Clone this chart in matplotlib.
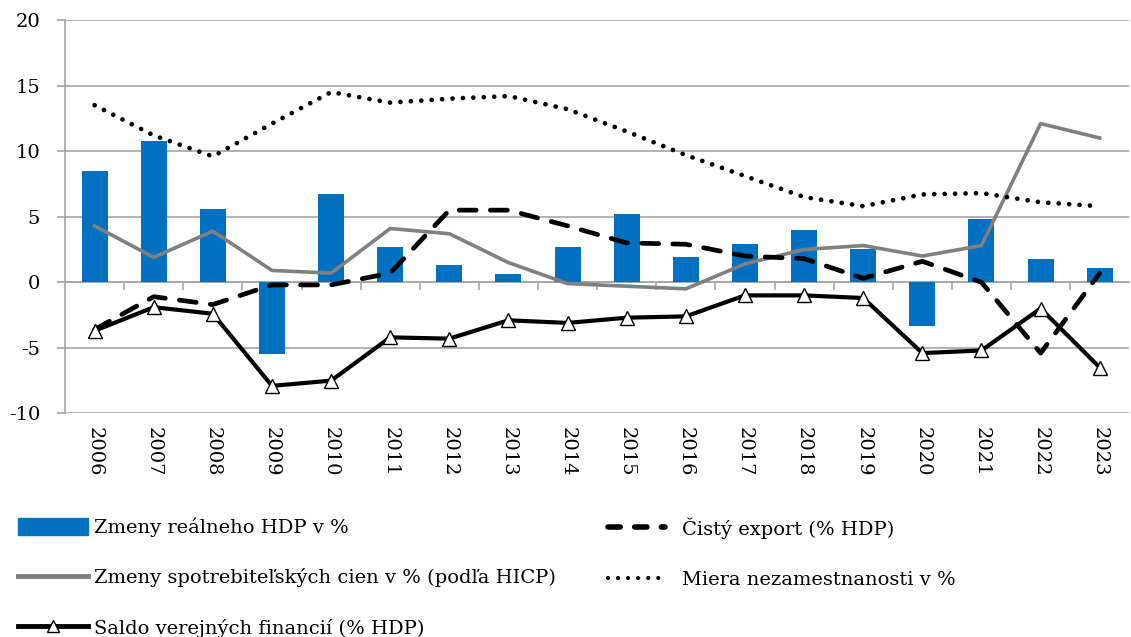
import matplotlib
matplotlib.use("Agg")
import matplotlib.pyplot as plt
import numpy as np
from matplotlib.lines import Line2D
from matplotlib.patches import Patch

years = [str(y) for y in range(2006, 2024)]
hdp = [8.5, 10.8, 5.6, -5.5, 6.7, 2.7, 1.3, 0.6, 2.7, 5.2, 1.9, 2.9, 4.0, 2.5, -3.3, 4.8, 1.8, 1.1]
cisty_export = [-3.6, -1.1, -1.7, -0.2, -0.2, 0.7, 5.5, 5.5, 4.3, 3.0, 2.9, 2.0, 1.8, 0.3, 1.6, 0.0, -5.4, 0.7]
hicp = [4.3, 1.9, 3.9, 0.9, 0.7, 4.1, 3.7, 1.5, -0.1, -0.3, -0.5, 1.4, 2.5, 2.8, 2.0, 2.8, 12.1, 11.0]
nezamestnanost = [13.5, 11.2, 9.6, 12.1, 14.5, 13.7, 14.0, 14.2, 13.2, 11.5, 9.7, 8.1, 6.5, 5.8, 6.7, 6.8, 6.1, 5.8]
saldo = [-3.7, -1.9, -2.4, -7.9, -7.5, -4.2, -4.3, -2.9, -3.1, -2.7, -2.6, -1.0, -1.0, -1.2, -5.4, -5.2, -2.0, -6.5]

labels = ["Zmeny reálneho HDP v %", "Čistý export (% HDP)",
          "Zmeny spotrebiteľských cien v % (podľa HICP)", "Miera nezamestnanosti v %",
          "Saldo verejných financií (% HDP)"]

plt.rcParams['font.family'] = ['DejaVu Serif']
plt.rcParams['axes.unicode_minus'] = False
FS = 14

fig = plt.figure(figsize=(11.31, 6.37), dpi=100)
ax = fig.add_axes([0.0575, 0.351, 0.941, 0.6176])

x = np.arange(len(years))
GRID = '#a6a6a6'
ax.bar(x, hdp, width=0.44, color='#0070C0', zorder=2)
ax.plot(x, hicp, color='#808080', lw=2.6, zorder=3)
ax.plot(x, cisty_export, color='black', lw=3.4, dashes=(3.6, 3.0), dash_capstyle='round', zorder=4)
ax.plot(x, nezamestnanost, color='black', lw=3.4, dashes=(0.01, 2.2), dash_capstyle='round', zorder=4)
ax.plot(x, saldo, color='black', lw=3.0, marker='^', ms=10, mfc='white', mec='black', mew=1.0, zorder=5)

ax.set_xlim(-0.5, len(years) - 0.5)
ax.set_ylim(-10, 20)
ax.set_yticks(np.arange(-10, 21, 5))
ax.yaxis.grid(True, color=GRID, lw=1.2)
ax.set_axisbelow(True)
for s in ['top', 'right', 'bottom']:
    ax.spines[s].set_visible(False)
ax.spines['left'].set_color(GRID)
ax.spines['left'].set_linewidth(1.2)
ax.tick_params(axis='y', length=6, color=GRID, width=1.2, labelsize=FS, pad=12)
ax.set_xticks(x)
ax.set_xticklabels(years, rotation=-90, fontsize=FS)
ax.tick_params(axis='x', length=0, pad=10)

# category axis line at zero with tick marks between categories
sec = ax.secondary_xaxis(1/3)
sec.set_xticks(np.arange(0.5, len(years) - 0.5, 1.0))
sec.tick_params(axis='x', direction='out', length=6, color=GRID, width=1.2, labelbottom=False, labeltop=False)
sec.spines['bottom'].set_color(GRID)
sec.spines['bottom'].set_linewidth(1.2)
sec.spines['top'].set_visible(False)
sec.xaxis.set_ticks_position('bottom')
sec.set_xticklabels([])

h_bar = Patch(color='#0070C0')
h_hicp = Line2D([], [], color='#808080', lw=3.5)
h_saldo = Line2D([], [], color='black', lw=3.5, marker='^', ms=9, mfc='white', mec='black', mew=1.0)
h_exp = Line2D([], [], color='black', lw=4.0, dashes=(2.2, 2.6), dash_capstyle='round')
h_nez = Line2D([], [], color='black', lw=3.0, dashes=(0.01, 2.4), dash_capstyle='round')

leg1 = fig.legend([h_bar, h_hicp, h_saldo], [labels[0], labels[2], labels[4]],
                  loc='upper left', bbox_to_anchor=(0.009, 0.2), frameon=False,
                  fontsize=FS, handlelength=3.6, handleheight=1.0, handletextpad=0.3,
                  labelspacing=1.6, borderaxespad=0)
leg2 = fig.legend([h_exp, h_nez], [labels[1], labels[3]],
                  loc='upper left', bbox_to_anchor=(0.531, 0.2), frameon=False,
                  fontsize=FS, handlelength=2.9, handleheight=1.0, handletextpad=0.9,
                  labelspacing=1.6, borderaxespad=0)

fig.savefig('out.png', dpi=100)
